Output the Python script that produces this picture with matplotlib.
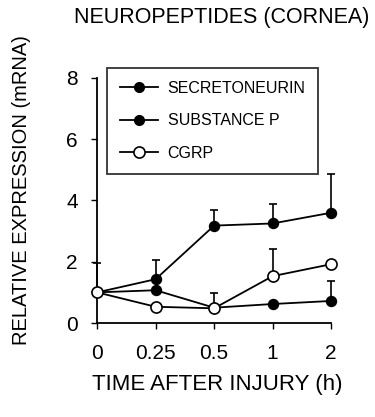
import matplotlib
matplotlib.use("Agg")
import matplotlib.pyplot as plt
from matplotlib.lines import Line2D

times = ["0", "0.25", "0.5", "1", "2"]
secretoneurin = [1.0, 1.43, 3.18, 3.25, 3.6]
secretoneurin_err = [0.95, 0.62, 0.52, 0.65, 1.27]
substance_p = [1.0, 1.07, 0.5, 0.62, 0.72]
substance_p_err = [0.0, 0.0, 0.0, 0.0, 0.64]
cgrp = [1.0, 0.53, 0.48, 1.53, 1.92]
cgrp_err = [0.0, 0.0, 0.5, 0.9, 0.0]
labels = ["SECRETONEURIN", "SUBSTANCE P", "CGRP"]

plt.rcParams['font.family'] = ['Liberation Sans', 'DejaVu Sans']

fig = plt.figure(figsize=(3.75, 4.17), dpi=100)
ax = fig.add_axes([0.259, 0.2254, 0.624, 0.5876])

x = list(range(len(times)))


def plot_series(vals, errs, filled):
    ax.errorbar(x, vals, yerr=[[0] * len(errs), errs], color='black',
                lw=1.3, elinewidth=1.2, capsize=3, capthick=1.2,
                marker='o', ms=7 if filled else 8,
                mfc='black' if filled else 'white', mec='black', mew=1.2,
                clip_on=False, zorder=3)


plot_series(secretoneurin, secretoneurin_err, True)
plot_series(substance_p, substance_p_err, True)
plot_series(cgrp, cgrp_err, False)

ax.set_xlim(0, 4)
ax.set_ylim(0, 8)
ax.set_xticks(x)
ax.set_xticklabels(times)
ax.set_yticks([0, 2, 4, 6, 8])
ax.tick_params(direction='out', length=4, width=1, labelsize=15)
ax.tick_params(axis='x', pad=11)
ax.tick_params(axis='y', pad=10)
for s in ['top', 'right']:
    ax.spines[s].set_visible(False)
for s in ['left', 'bottom']:
    ax.spines[s].set_linewidth(1.3)

fig.text(0.592, 0.957, "NEUROPEPTIDES (CORNEA)", fontsize=15.5,
         ha='center', va='center')
fig.text(0.58, 0.077, "TIME AFTER INJURY (h)", fontsize=16,
         ha='center', va='center')
fig.text(0.058, 0.545, "RELATIVE EXPRESSION (mRNA)", fontsize=14.5,
         ha='center', va='center', rotation=90)

handles = [
    Line2D([], [], color='black', lw=1.3, marker='o', ms=7, mfc='black'),
    Line2D([], [], color='black', lw=1.3, marker='o', ms=7, mfc='black'),
    Line2D([], [], color='black', lw=1.3, marker='o', ms=8, mfc='white',
           mew=1.2),
]
leg = fig.legend(handles, labels, loc='upper left',
                 bbox_to_anchor=(0.285, 0.837), fontsize=11.5,
                 frameon=True, fancybox=False, edgecolor='black',
                 handlelength=2.4, handletextpad=0.6, borderpad=0.8,
                 labelspacing=1.1, borderaxespad=0)
leg.get_frame().set_linewidth(1.3)

fig.savefig("out.png", dpi=100)
